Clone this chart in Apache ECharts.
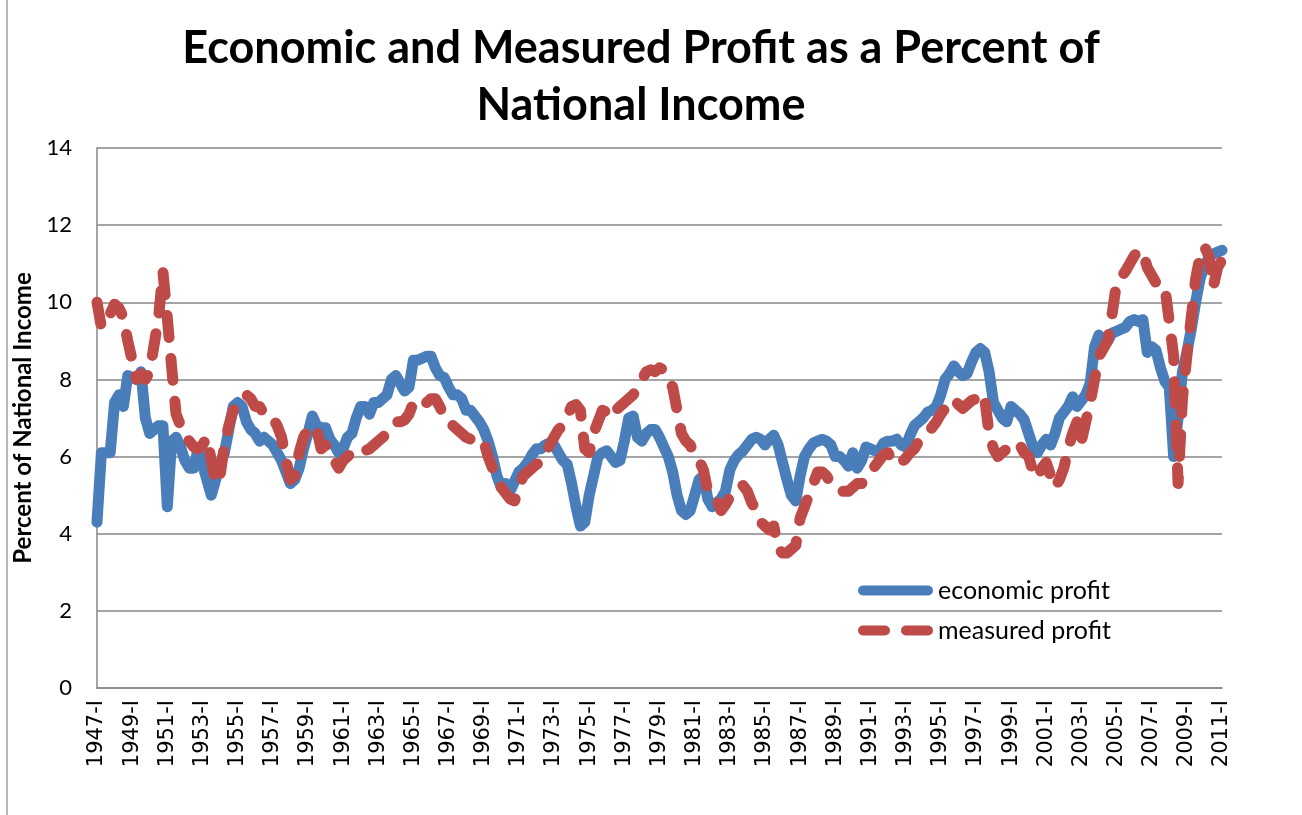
<!DOCTYPE html>
<html>
<head>
<meta charset="utf-8">
<script src="https://cdn.jsdelivr.net/npm/echarts@6/dist/echarts.min.js"></script>
<style>
html, body { margin: 0; padding: 0; background: #fff; }
#container { width: 1302px; height: 815px; }
</style>
</head>
<body>
<div id="container"></div>
<script>
var dom = document.getElementById("container");
var myChart = echarts.init(dom);

// quarters 1947-I .. 2011-I
var firstYear = 1947, lastYear = 2011;
var quarterNames = ['I', 'II', 'III', 'IV'];
var yTicks = [0, 2, 4, 6, 8, 10, 12, 14];

var economicProfit = [
    4.3, 6.1, 6.1, 6.1, 7.4, 7.6, 7.3, 8.1, 8.05, 8.0,
    8.2, 7.0, 6.6, 6.7, 6.8, 6.8, 4.7, 6.4, 6.5, 6.25,
    5.9, 5.7, 5.7, 6.2, 5.8, 5.4, 5.0, 5.4, 5.8, 6.1,
    6.7, 7.3, 7.4, 7.3, 6.9, 6.7, 6.6, 6.4, 6.5, 6.4,
    6.3, 6.1, 5.9, 5.6, 5.3, 5.4, 5.7, 6.2, 6.6, 7.05,
    6.8, 6.75, 6.75, 6.45, 6.3, 6.1, 6.2, 6.5, 6.6, 7.0,
    7.3, 7.3, 7.1, 7.4, 7.4, 7.5, 7.6, 8.0, 8.1, 7.9,
    7.7, 7.8, 8.5, 8.5, 8.55, 8.6, 8.6, 8.3, 8.1, 8.05,
    7.8, 7.6, 7.6, 7.5, 7.2, 7.2, 7.05, 6.9, 6.7, 6.4,
    6.0, 5.5, 5.2, 5.3, 5.1, 5.35, 5.6, 5.7, 5.85, 6.05,
    6.2, 6.2, 6.3, 6.35, 6.3, 6.1, 5.9, 5.8, 5.3, 4.7,
    4.2, 4.3, 5.0, 5.5, 6.0, 6.1, 6.15, 6.0, 5.85, 5.9,
    6.4, 7.0, 7.05, 6.5, 6.4, 6.6, 6.7, 6.7, 6.5, 6.25,
    6.0, 5.6, 5.0, 4.6, 4.5, 4.6, 5.0, 5.4, 5.5, 4.9,
    4.7, 4.8, 4.9, 5.1, 5.65, 5.9, 6.05, 6.15, 6.3, 6.45,
    6.5, 6.45, 6.3, 6.45, 6.55, 6.3, 5.85, 5.4, 5.0, 4.85,
    5.5, 6.0, 6.2, 6.35, 6.4, 6.45, 6.4, 6.3, 6.0, 6.0,
    5.9, 5.75, 6.1, 5.7, 5.9, 6.25, 6.2, 6.15, 6.15, 6.35,
    6.4, 6.4, 6.45, 6.3, 6.25, 6.55, 6.8, 6.9, 7.0, 7.15,
    7.2, 7.3, 7.6, 8.0, 8.15, 8.35, 8.2, 8.1, 8.15, 8.45,
    8.7, 8.8, 8.7, 8.2, 7.4, 7.2, 7.0, 6.9, 7.3, 7.2,
    7.1, 6.95, 6.6, 6.25, 6.1, 6.3, 6.45, 6.3, 6.6, 7.0,
    7.15, 7.3, 7.55, 7.3, 7.45, 7.6, 7.9, 8.85, 9.15, 9.0,
    9.0, 9.2, 9.25, 9.3, 9.35, 9.5, 9.55, 9.5, 9.55, 8.7,
    8.85, 8.75, 8.3, 7.95, 7.8, 6.0, 7.0, 8.2, 8.7, 9.3,
    10.0, 10.6, 10.95, 11.15, 11.25, 11.3, 11.35
];

var measuredProfit = [
    10.0, 9.35, 9.6, 9.7, 9.95, 9.85, 9.6, 9.0, 8.5, 8.0,
    8.15, 8.0, 8.2, 8.9, 9.6, 10.8, 9.6, 8.3, 7.1, 6.8,
    6.5, 6.4, 6.25, 6.2, 6.3, 6.5, 5.9, 5.3, 5.5, 6.3,
    6.8, 7.2, 7.3, 7.5, 7.6, 7.5, 7.3, 7.3, 7.1, 7.1,
    7.0, 6.8, 6.5, 5.9, 5.4, 5.5, 6.1, 6.5, 6.7, 6.8,
    6.7, 6.2, 6.3, 6.2, 5.9, 5.7, 5.9, 6.0, 6.1, 6.2,
    6.15, 6.15, 6.2, 6.3, 6.4, 6.5, 6.6, 6.7, 6.9, 6.9,
    6.95, 7.1, 7.4, 7.5, 7.5, 7.4, 7.5, 7.5, 7.3, 7.0,
    6.9, 6.8, 6.7, 6.6, 6.5, 6.45, 6.4, 6.35, 6.4, 6.0,
    5.7, 5.5, 5.2, 5.05, 4.9, 4.85, 5.2, 5.5, 5.6, 5.7,
    5.8, 5.85, 6.05, 6.3, 6.5, 6.7, 6.8, 7.05, 7.3, 7.35,
    7.2, 6.2, 6.1, 6.6, 6.9, 7.2, 7.15, 7.0, 7.2, 7.3,
    7.4, 7.5, 7.6, 7.8, 8.0, 8.2, 8.25, 8.2, 8.3, 8.25,
    8.0, 7.8, 7.2, 6.6, 6.4, 6.3, 6.0, 5.9, 5.65, 5.1,
    5.0, 4.9, 4.6, 4.75, 4.95, 5.15, 5.2, 5.25, 5.1, 4.8,
    4.6, 4.3, 4.2, 4.1, 4.2, 3.6, 3.5, 3.5, 3.6, 3.7,
    4.4, 4.7, 5.0, 5.3, 5.6, 5.6, 5.5, 5.3, 5.2, 5.1,
    5.1, 5.1, 5.2, 5.3, 5.3, 5.45, 5.6, 5.75, 5.9, 6.05,
    6.1, 5.85, 5.8, 5.85, 5.95, 6.1, 6.2, 6.4, 6.5, 6.6,
    6.75, 6.9, 7.1, 7.25, 7.35, 7.5, 7.35, 7.25, 7.35, 7.45,
    7.5, 7.65, 7.5, 6.6, 6.2, 6.0, 6.1, 6.2, 6.35, 6.35,
    6.3, 6.1, 6.0, 5.6, 5.45, 5.7, 5.85, 5.5, 5.2, 5.4,
    5.7, 6.2, 6.6, 6.9, 6.4, 6.9, 7.4, 8.0, 8.6, 8.8,
    9.0, 9.7, 10.5, 10.65, 10.8, 11.0, 11.2, 11.35, 11.3, 10.9,
    10.7, 10.5, 10.4, 10.4, 9.5, 8.6, 5.3, 7.5, 8.6, 9.6,
    10.6, 11.2, 11.45, 11.2, 10.4, 10.9, 11.1
];

var categories = [];
for (var y = firstYear; y <= lastYear; y++) {
    for (var q = 0; q < quarterNames.length; q++) {
        if (categories.length < economicProfit.length) {
            categories.push(y + '-' + quarterNames[q]);
        }
    }
}

var blue = '#4A7EBB', red = '#BE4B48', grid = '#868686';
var mainFont = 'Lato, "Open Sans", sans-serif';

// legend keys: one long capsule, and two short capsules for the dashed series
var solidIcon = 'path://M5,0 H70 A5,5 0 0 1 70,10 H5 A5,5 0 0 1 5,0 Z';
var dashIcon = 'path://M5,0 H27 A5,5 0 0 1 27,10 H5 A5,5 0 0 1 5,0 Z M48,0 H70 A5,5 0 0 1 70,10 H48 A5,5 0 0 1 48,0 Z';

option = {
    animation: false,
    backgroundColor: '#fff',
    title: {
        text: 'Economic and Measured Profit as a Percent of\nNational Income',
        left: 636,
        top: 15,
        textAlign: 'center',
        textStyle: {
            fontFamily: mainFont,
            fontWeight: 'bold',
            fontSize: 45,
            lineHeight: 57,
            color: '#000'
        }
    },
    legend: {
        orient: 'vertical',
        left: 853,
        top: 573,
        itemWidth: 75,
        itemHeight: 10,
        itemGap: 15,
        textStyle: {
            fontFamily: mainFont,
            fontSize: 25,
            color: '#000'
        },
        data: [
            { name: 'economic profit', icon: solidIcon, itemStyle: { color: blue } },
            { name: 'measured profit', icon: dashIcon, itemStyle: { color: red } }
        ]
    },
    grid: {
        left: 97,
        right: 80,
        top: 148,
        bottom: 127,
        containLabel: false
    },
    xAxis: {
        type: 'category',
        data: categories,
        boundaryGap: false,
        axisLine: { lineStyle: { color: grid, width: 1.5 } },
        axisTick: { show: false },
        axisLabel: {
            interval: 7,
            rotate: 90,
            margin: 12,
            fontFamily: '"DejaVu Sans", sans-serif',
            fontSize: 21,
            color: '#000'
        },
        splitLine: { show: false }
    },
    yAxis: {
        type: 'value',
        min: yTicks[0],
        max: yTicks[yTicks.length - 1],
        interval: 2,
        name: 'Percent of National Income',
        nameLocation: 'middle',
        nameRotate: 90,
        nameGap: 54,
        nameTextStyle: {
            fontFamily: mainFont,
            fontWeight: 'bold',
            fontSize: 24,
            color: '#000'
        },
        axisLine: { show: true, lineStyle: { color: grid, width: 1.5 } },
        axisTick: { show: false },
        axisLabel: {
            margin: 25,
            fontFamily: mainFont,
            fontSize: 22,
            color: '#000'
        },
        splitLine: { lineStyle: { color: grid, width: 1.5 } }
    },
    graphic: [
        {
            type: 'line',
            shape: { x1: 7, y1: 0, x2: 7, y2: 815 },
            style: { stroke: '#a0a0a0', lineWidth: 1.5 }
        }
    ],
    series: [
        {
            name: 'economic profit',
            type: 'line',
            data: economicProfit,
            symbol: 'none',
            showSymbol: false,
            color: blue,
            lineStyle: { color: blue, width: 11, cap: 'round', join: 'round' },
            z: 2
        },
        {
            name: 'measured profit',
            type: 'line',
            data: measuredProfit,
            symbol: 'none',
            showSymbol: false,
            color: red,
            lineStyle: { color: red, width: 11, type: [22, 21], cap: 'round', join: 'round' },
            z: 3
        }
    ]
};
if (option && typeof option === "object") {
    myChart.setOption(option, true);
}
</script>
</body>
</html>
